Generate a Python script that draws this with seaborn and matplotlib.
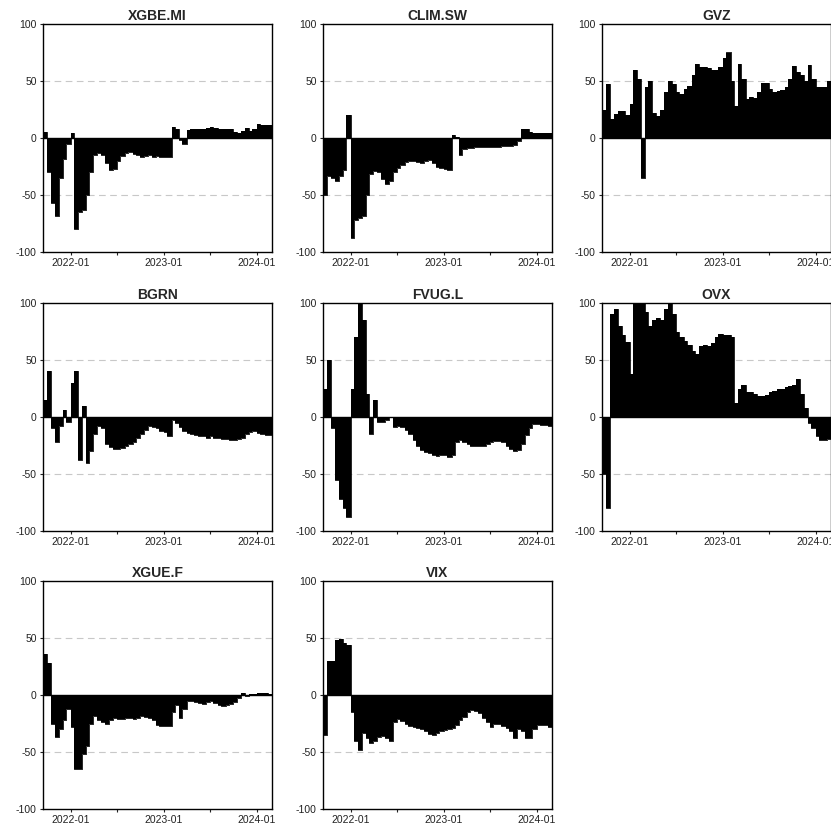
import pandas as pd
import matplotlib
matplotlib.use('Agg')
import matplotlib.pyplot as plt
import matplotlib.dates as mdates
from matplotlib.ticker import FuncFormatter
import seaborn as sns

# 1. Data (semi-monthly steps)
# ----------------------------------------------------

dates = pd.date_range('2021-09-15', '2024-03-01', freq='SMS')

tickers = ['XGBE.MI', 'CLIM.SW', 'GVZ', 'BGRN', 'FVUG.L', 'OVX', 'XGUE.F', 'VIX']

xgbe_mi = [5, -30, -57, -68, -35, -18, -5, 4, -80, -65,
           -63, -50, -30, -15, -13, -15, -22, -28, -27, -20,
           -16, -13, -12, -14, -15, -17, -16, -15, -17, -16,
           -17, -17, -17, 10, 8, -2, -5, 7, 8, 8,
           8, 8, 9, 10, 9, 8, 8, 8, 8, 5,
           4, 6, 9, 6, 8, 12, 11, 11, 11]

clim_sw = [-50, -33, -35, -38, -33, -28, 20, -88, -72, -70,
           -68, -50, -32, -29, -30, -36, -40, -38, -30, -26,
           -24, -21, -20, -20, -21, -22, -20, -19, -22, -25,
           -26, -27, -28, 3, 1, -15, -10, -9, -9, -8,
           -8, -8, -8, -8, -8, -8, -7, -7, -7, -6,
           -3, 8, 8, 5, 4, 4, 4, 4, 4]

gvz = [25, 47, 17, 21, 24, 24, 20, 30, 60, 52,
       -35, 45, 50, 22, 19, 25, 40, 50, 47, 40,
       39, 43, 46, 55, 65, 62, 62, 61, 60, 60,
       62, 70, 75, 50, 28, 65, 52, 34, 36, 35,
       40, 48, 48, 43, 40, 41, 42, 45, 52, 63,
       58, 55, 50, 64, 52, 45, 45, 45, 50]

bgrn = [15, 40, -10, -22, -8, 6, -4, 30, 40, -38,
        10, -40, -30, -15, -8, -10, -24, -26, -28, -28,
        -27, -25, -24, -22, -18, -15, -11, -8, -9, -10,
        -12, -13, -17, -3, -5, -9, -12, -14, -15, -16,
        -17, -17, -18, -17, -18, -18, -19, -19, -20, -20,
        -19, -18, -15, -13, -12, -14, -15, -16, -16]

fvug_l = [25, 50, -10, -55, -72, -80, -88, 25, 70, 100,
          85, 20, -15, 15, -4, -4, -3, 0, -9, -8,
          -9, -11, -15, -20, -25, -29, -31, -32, -33, -34,
          -33, -33, -35, -33, -22, -20, -22, -24, -25, -25,
          -25, -25, -24, -22, -21, -21, -22, -25, -28, -30,
          -29, -24, -16, -10, -6, -6, -7, -7, -8]

ovx = [-50, -80, 90, 95, 80, 72, 66, 38, 100, 100,
       100, 92, 80, 85, 87, 85, 95, 100, 90, 75,
       70, 67, 63, 58, 55, 62, 63, 62, 65, 70,
       73, 72, 72, 70, 12, 25, 28, 22, 22, 20,
       18, 18, 19, 22, 23, 25, 25, 26, 27, 28,
       33, 20, 8, -5, -10, -17, -20, -20, -19]

xgue_f = [36, 28, -25, -37, -30, -22, -12, -28, -65, -65,
          -52, -45, -25, -18, -22, -24, -25, -22, -20, -21,
          -21, -20, -20, -21, -20, -18, -19, -20, -22, -26,
          -27, -27, -27, -15, -9, -20, -12, -5, -5, -6,
          -7, -8, -6, -5, -7, -9, -10, -9, -8, -6,
          -3, 2, -1, 1, 1, 2, 2, 2, 1]

vix = [-35, 30, 30, 48, 49, 46, 44, -15, -40, -48,
       -33, -38, -42, -40, -37, -36, -38, -40, -24, -21,
       -23, -25, -27, -28, -29, -30, -32, -34, -35, -33,
       -32, -31, -30, -29, -26, -22, -19, -15, -13, -14,
       -16, -20, -24, -28, -25, -25, -27, -29, -32, -38,
       -30, -32, -38, -38, -30, -26, -26, -26, -28]

series = [xgbe_mi, clim_sw, gvz, bgrn, fvug_l, ovx, xgue_f, vix]

yticks = [-100, -50, 0, 50, 100]

# 2. Style
# --------

sns.set_style('ticks')
plt.rcParams['font.family'] = ['Liberation Sans', 'DejaVu Sans']
plt.rcParams['axes.unicode_minus'] = False

# axes boxes in pixels: left, top, width, height
col_left = [43, 323, 602]
row_top = [24, 303, 581]
W, H = 229, 228
FW, FH = 831, 833

fig = plt.figure(figsize=(FW / 100, FH / 100), dpi=100)

# 3. Panels
# ---------

for k, (name, vals) in enumerate(zip(tickers, series)):
    r, c = divmod(k, 3)
    ax = fig.add_axes([col_left[c] / FW, 1 - (row_top[r] + H) / FH, W / FW, H / FH])
    df = pd.DataFrame({'date': dates, 'value': list(vals) + [vals[-1]]})

    ax.fill_between(df['date'], df['value'], 0, step='post', color='black', lw=0)
    sns.lineplot(data=df, x='date', y='value', ax=ax, color='black', lw=0.6,
                 drawstyle='steps-post', estimator=None)
    ax.axhline(0, color='black', lw=1)
    for y in (-50, 50):
        ax.axhline(y, color='#c8c8c8', lw=0.8, dashes=(6, 4), zorder=0)

    ax.set_xlim(dates[0], dates[-1])
    ax.set_ylim(-100, 100)
    ax.set_yticks(yticks)
    ax.xaxis.set_major_locator(mdates.MonthLocator(bymonth=[1, 7]))
    ax.xaxis.set_major_formatter(FuncFormatter(
        lambda x, pos: mdates.num2date(x).strftime('%Y-%m') if mdates.num2date(x).month == 1 else ''))
    ax.tick_params(labelsize=7.5, length=2.5, width=0.8, colors='#222222', pad=2)
    ax.set_xlabel('')
    ax.set_ylabel('')
    ax.set_title(name, fontsize=10, fontweight='bold', pad=3)
    for s in ax.spines.values():
        s.set_visible(True)
        s.set_linewidth(1.0)
        s.set_color('black')

plt.savefig('out.png', dpi=100)
